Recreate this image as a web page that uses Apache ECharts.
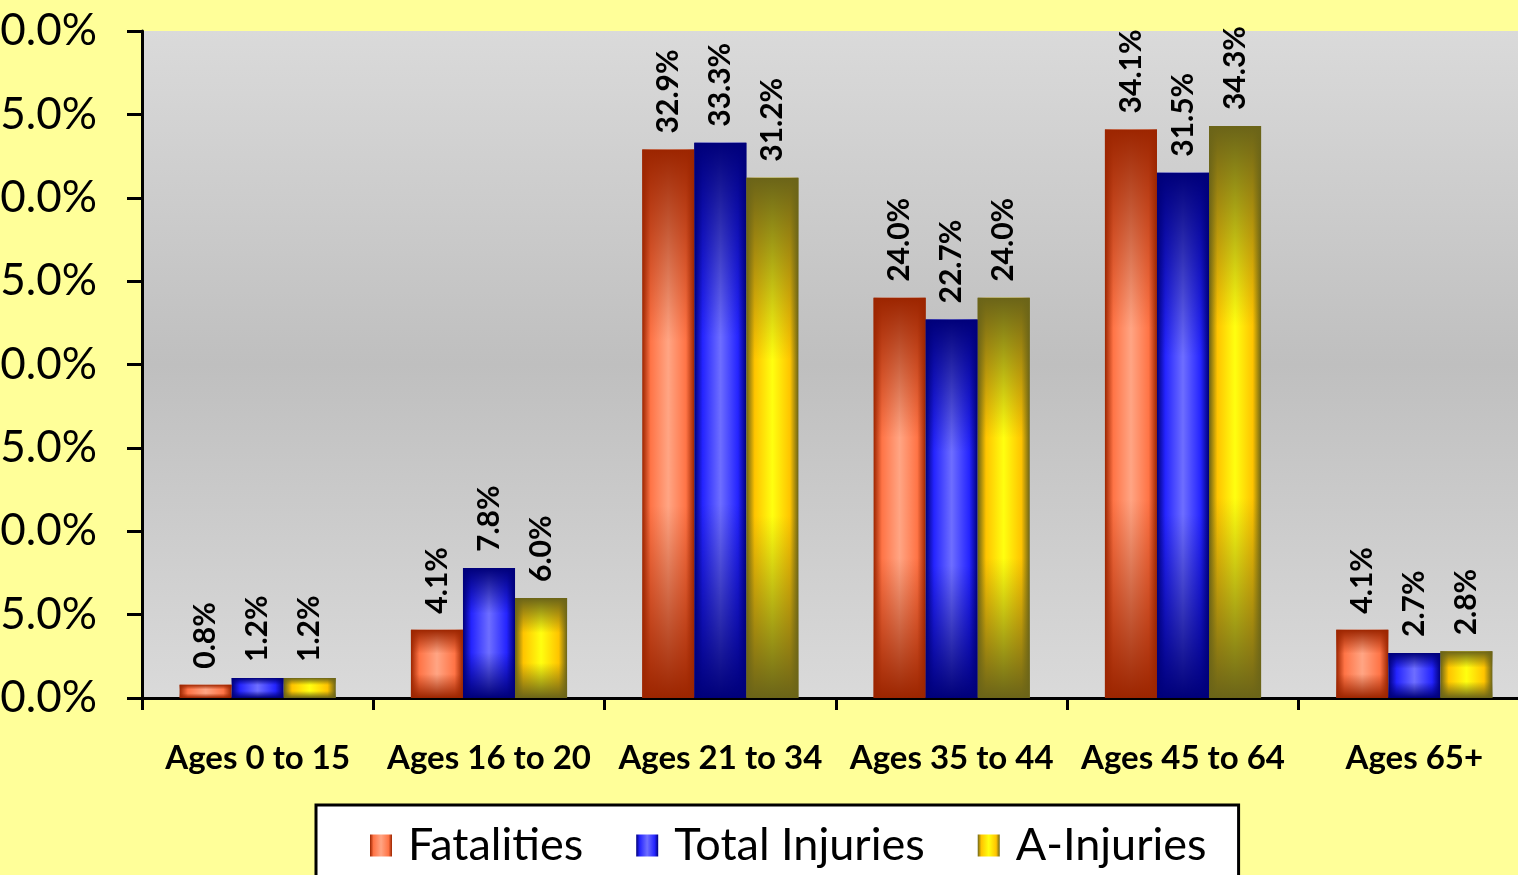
<!DOCTYPE html>
<head>
    <meta charset="utf-8">
    <title>Age groups</title>
    <script type="text/javascript" src="https://cdn.jsdelivr.net/npm/echarts@6/dist/echarts.min.js"></script>
    <style>
        html, body { margin: 0; padding: 0; background: #ffff99; }
        #main { width: 1518px; height: 875px; }
    </style>
</head>
<body>
    <div id="main"></div>

    <script type="text/javascript">
        // data
        var ageGroups = ['Ages 0 to 15', 'Ages 16 to 20', 'Ages 21 to 34', 'Ages 35 to 44', 'Ages 45 to 64', 'Ages 65+'];
        var fatalities = [0.8, 4.1, 32.9, 24.0, 34.1, 4.1];
        var totalInjuries = [1.2, 7.8, 33.3, 22.7, 31.5, 2.7];
        var aInjuries = [1.2, 6.0, 31.2, 24.0, 34.3, 2.8];
        var yTicks = [0, 5, 10, 15, 20, 25, 30, 35, 40];

        // colours: dark edge, body, highlight, dark edge with no alpha
        var cFat = ['#9c2500', '#ff7446', '#ffa584', 'rgba(156,37,0,0)'];
        var cTot = ['#00007a', '#2424ff', '#6e6eff', 'rgba(0,0,122,0)'];
        var cAin = ['#6b6418', '#ffc400', '#ffff10', 'rgba(107,100,24,0)'];

        function sideGrad(c) {
            return new echarts.graphic.LinearGradient(0, 0, 1, 0, [
                {offset: 0, color: c[0]},
                {offset: 0.16, color: c[1]},
                {offset: 0.5, color: c[2]},
                {offset: 0.84, color: c[1]},
                {offset: 1, color: c[0]}
            ]);
        }
        function endGrad(c) {
            return new echarts.graphic.LinearGradient(0, 0, 0, 1, [
                {offset: 0, color: c[0]},
                {offset: 0.35, color: c[3]},
                {offset: 0.65, color: c[3]},
                {offset: 1, color: c[0]}
            ]);
        }

        var labelFont = 'Lato';
        var barLabel = {
            show: true,
            position: 'top',
            rotate: 90,
            align: 'left',
            verticalAlign: 'middle',
            distance: 16,
            fontFamily: labelFont,
            fontWeight: 'bold',
            fontSize: 30,
            color: '#000',
            formatter: function (p) { return p.value.toFixed(1) + '%'; }
        };

        function bodySeries(name, data, c) {
            return {
                name: name, type: 'bar', xAxisIndex: 0, data: data,
                barGap: '0%', barCategoryGap: '32.5%',
                itemStyle: {color: sideGrad(c)},
                emphasis: {disabled: true}
            };
        }
        function capSeries(name, data, c) {
            return {
                name: name, type: 'bar', xAxisIndex: 1, data: data,
                barGap: '0%', barCategoryGap: '32.5%',
                itemStyle: {color: endGrad(c)},
                label: barLabel,
                emphasis: {disabled: true}
            };
        }

        var chart = echarts.init(document.getElementById('main'));
        chart.setOption({
            backgroundColor: '#ffff99',
            animation: false,
            grid: {
                left: 142, top: 31, right: -12, bottom: 177,
                containLabel: false,
                outerBoundsMode: 'none',
                show: true,
                borderWidth: 0,
                backgroundColor: new echarts.graphic.LinearGradient(0, 0, 0, 1, [
                    {offset: 0, color: '#dadada'},
                    {offset: 0.5, color: '#bfbfbf'},
                    {offset: 1, color: '#dadada'}
                ])
            },
            legend: {
                data: ['Fatalities', 'Total Injuries', 'A-Injuries'],
                left: 316, top: 805,
                padding: [18, 32, 60, 54],
                itemWidth: 22, itemHeight: 22,
                itemGap: 53,
                icon: 'rect',
                backgroundColor: '#fff',
                borderColor: '#000',
                borderWidth: 3,
                textStyle: {fontFamily: labelFont, fontSize: 45, color: '#000', padding: [0, 0, 0, 11]}
            },
            xAxis: [{
                type: 'category',
                data: ageGroups,
                axisLine: {lineStyle: {color: '#000', width: 3}},
                axisTick: {show: true, length: 12, lineStyle: {color: '#000', width: 3}},
                axisLabel: {margin: 44, fontFamily: labelFont, fontWeight: 'bold', fontSize: 33, color: '#000', interval: 0}
            }, {
                type: 'category',
                data: ageGroups,
                show: false
            }],
            yAxis: {
                type: 'value',
                min: yTicks[0], max: yTicks[yTicks.length - 1], interval: yTicks[1] - yTicks[0],
                splitLine: {show: false},
                axisLine: {show: true, lineStyle: {color: '#000', width: 3}},
                axisTick: {show: true, length: 15, lineStyle: {color: '#000', width: 3}},
                axisLabel: {
                    margin: 45, fontFamily: labelFont, fontSize: 44, color: '#000',
                    formatter: function (v) { return v.toFixed(1) + '%'; }
                }
            },
            series: [
                bodySeries('Fatalities', fatalities, cFat),
                bodySeries('Total Injuries', totalInjuries, cTot),
                bodySeries('A-Injuries', aInjuries, cAin),
                capSeries('Fatalities', fatalities, cFat),
                capSeries('Total Injuries', totalInjuries, cTot),
                capSeries('A-Injuries', aInjuries, cAin)
            ]
        });
    </script>
</body>
